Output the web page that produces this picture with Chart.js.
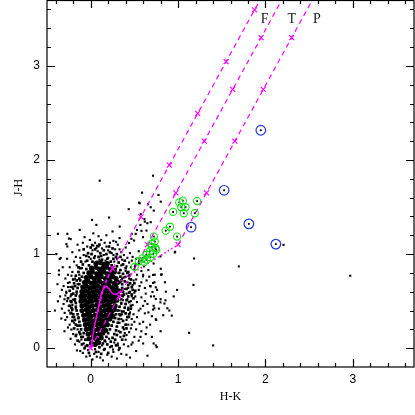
<!DOCTYPE html>
<html>
<head>
<meta charset="utf-8">
<script src="https://cdn.jsdelivr.net/npm/chart.js@4.4.1/dist/chart.umd.min.js"></script>
<style>
  html, body { margin: 0; padding: 0; background: #fff; }
  #wrap { width: 415px; height: 415px; }
</style>
</head>
<body>
<div id="wrap"><canvas id="ccd" width="415" height="415"></canvas></div>
<script>

//------------------------------------------------------------------
// values  (x = H-K , y = J-H)

const xTicks = [0, 1, 2, 3];
const yTicks = [0, 1, 2, 3];
const xTitle = 'H-K';
const yTitle = 'J-H';

const regionLabels = ['F', 'T', 'P'];
const regionLabelX = [1.99, 2.30, 2.59];
const regionLabelY = [3.49, 3.49, 3.49];

// dense middle of the cloud
const coreStars = [
  [0.01,0.05],[0.05,0.04],[0.09,0.06],
  [-0.02,0.10],[0.03,0.11],[0.07,0.09],[0.12,0.11],
  [-0.03,0.15],[0.01,0.16],[0.05,0.14],[0.10,0.15],[0.14,0.16],
  [-0.05,0.20],[-0.01,0.21],[0.04,0.19],[0.08,0.20],[0.12,0.21],[0.17,0.19],
  [-0.06,0.25],[-0.02,0.26],[0.02,0.24],[0.07,0.25],[0.11,0.26],[0.15,0.24],[0.19,0.25],
  [-0.07,0.30],[-0.03,0.31],[0.02,0.29],[0.06,0.30],[0.10,0.31],[0.14,0.29],[0.18,0.30],[0.22,0.31],
  [-0.08,0.35],[-0.04,0.36],[0.00,0.34],[0.05,0.35],[0.09,0.36],[0.13,0.34],[0.17,0.35],[0.21,0.36],[0.25,0.34],
  [-0.10,0.40],[-0.05,0.41],[-0.01,0.39],[0.03,0.40],[0.08,0.41],[0.12,0.39],[0.16,0.40],[0.20,0.41],[0.24,0.39],[0.27,0.41],
  [-0.10,0.45],[-0.06,0.46],[-0.02,0.44],[0.02,0.45],[0.07,0.46],[0.11,0.44],[0.15,0.45],[0.19,0.46],[0.23,0.44],[0.28,0.45],
  [-0.11,0.50],[-0.07,0.51],[-0.03,0.49],[0.01,0.50],[0.06,0.51],[0.10,0.49],[0.14,0.50],[0.18,0.51],[0.22,0.49],[0.26,0.50],[0.30,0.51],
  [-0.11,0.55],[-0.07,0.56],[-0.02,0.54],[0.02,0.55],[0.06,0.56],[0.11,0.54],[0.15,0.55],[0.19,0.56],[0.23,0.54],[0.27,0.55],[0.31,0.56],
  [-0.10,0.60],[-0.06,0.61],[-0.02,0.59],[0.03,0.60],[0.07,0.61],[0.11,0.59],[0.15,0.60],[0.19,0.61],[0.24,0.59],[0.28,0.60],[0.32,0.61],
  [-0.09,0.65],[-0.05,0.66],[-0.01,0.64],[0.04,0.65],[0.08,0.66],[0.12,0.64],[0.16,0.65],[0.21,0.66],[0.25,0.64],[0.29,0.65],
  [-0.07,0.70],[-0.03,0.71],[0.01,0.69],[0.05,0.70],[0.10,0.71],[0.14,0.69],[0.18,0.70],[0.22,0.71],[0.27,0.69],[0.31,0.70],
  [-0.05,0.75],[0.00,0.76],[0.04,0.74],[0.08,0.75],[0.12,0.76],[0.17,0.74],[0.21,0.75],[0.25,0.76],[0.29,0.74],
  [-0.02,0.80],[0.02,0.81],[0.07,0.79],[0.11,0.80],[0.15,0.81],[0.19,0.79],[0.24,0.80],[0.27,0.81],
  [0.01,0.85],[0.06,0.86],[0.10,0.84],[0.14,0.85],[0.18,0.86],[0.23,0.84],
  [0.06,0.90],[0.11,0.91],[0.15,0.89],[0.19,0.90]
];

// the crowded rim around that middle
const rimStars = [
  [-0.02,-0.05],[0.06,-0.04],[0.12,-0.06],[0.20,-0.05],
  [-0.07,0.00],[0.10,0.01],[0.16,-0.01],[0.24,0.02],[0.33,0.00],
  [-0.10,0.04],[-0.04,0.03],[0.14,0.05],[0.19,0.04],[0.29,0.03],
  [-0.15,0.08],[-0.06,0.09],[0.16,0.08],[0.23,0.07],[0.36,0.09],
  [-0.09,0.12],[-0.17,0.13],[0.18,0.12],[0.25,0.11],[0.30,0.14],
  [-0.08,0.16],[-0.13,0.17],[0.20,0.16],[0.27,0.15],[0.34,0.17],
  [-0.11,0.20],[-0.19,0.21],[0.22,0.20],[0.29,0.19],[0.37,0.22],
  [-0.12,0.24],[-0.17,0.25],[0.24,0.24],[0.30,0.23],[0.40,0.25],
  [-0.13,0.28],[-0.21,0.29],[0.26,0.28],[0.31,0.27],[0.37,0.29],
  [-0.14,0.32],[-0.19,0.33],[0.28,0.32],[0.32,0.31],[0.42,0.33],
  [-0.15,0.36],[-0.23,0.37],[0.29,0.36],[0.34,0.35],[0.40,0.37],
  [-0.16,0.40],[-0.21,0.41],[0.31,0.40],[0.36,0.39],[0.43,0.41],
  [-0.17,0.44],[-0.24,0.45],[0.33,0.44],[0.39,0.43],[0.46,0.45],
  [-0.17,0.48],[-0.22,0.49],[0.35,0.48],[0.40,0.47],[0.44,0.49],
  [-0.18,0.52],[-0.26,0.53],[0.35,0.52],[0.41,0.51],[0.49,0.53],
  [-0.17,0.56],[-0.22,0.57],[0.36,0.56],[0.43,0.55],[0.47,0.57],
  [-0.16,0.60],[-0.24,0.61],[0.37,0.60],[0.44,0.59],[0.51,0.61],
  [-0.15,0.64],[-0.21,0.65],[0.36,0.64],[0.41,0.63],[0.47,0.65],
  [-0.13,0.68],[-0.19,0.69],[0.36,0.68],[0.43,0.67],[0.50,0.69],
  [-0.12,0.72],[-0.20,0.73],[0.35,0.72],[0.39,0.71],[0.46,0.73],
  [-0.10,0.76],[-0.17,0.77],[0.34,0.76],[0.38,0.75],[0.44,0.77],
  [-0.08,0.80],[-0.14,0.81],[0.32,0.80],[0.37,0.79],[0.43,0.81],
  [-0.05,0.84],[-0.12,0.85],[0.28,0.84],[0.34,0.83],[0.40,0.85],
  [-0.02,0.88],[-0.09,0.89],[0.24,0.88],[0.30,0.87],[0.37,0.89],
  [0.02,0.92],[-0.04,0.93],[0.23,0.92],[0.13,0.94],[0.32,0.91],
  [0.04,0.96],[0.09,0.97],[0.19,0.95],[0.12,0.98],[0.29,0.97],
  [0.01,1.00],[0.11,1.01],[0.18,1.00],[0.22,1.02],[-0.03,1.01],
  [0.05,1.05],[0.15,1.04],[0.25,1.06],[-0.08,1.05],
  [0.26,0.95],[0.30,1.00],[0.34,0.97],[0.21,1.08],[0.10,1.10],[0.00,1.07],[-0.05,0.98],[-0.11,0.92],[-0.14,0.86],[0.39,0.93],
  [0.42,0.80],[0.45,0.69],[0.48,0.62],[0.46,0.42],[0.44,0.36],[0.41,0.21],[0.38,0.13],[0.28,0.09],[-0.20,0.36],[-0.23,0.50],
  [-0.20,0.58],[-0.18,0.66],[-0.16,0.72],[-0.13,0.74],[-0.18,0.30],[-0.15,0.24],[-0.12,0.15],[-0.22,0.43],[0.33,0.36],[0.38,0.57]
];

// single stars around the cloud
const fieldStars = [
  // right edge
  [0.34,0.12],[0.38,0.20],[0.33,0.27],[0.41,0.30],[0.36,0.36],[0.45,0.38],[0.39,0.43],[0.35,0.47],[0.48,0.46],[0.42,0.52],
  [0.37,0.55],[0.51,0.55],[0.45,0.60],[0.39,0.63],[0.55,0.62],[0.48,0.67],[0.42,0.70],[0.36,0.74],[0.52,0.73],[0.45,0.78],
  [0.40,0.82],[0.58,0.70],[0.50,0.84],[0.35,0.88],[0.44,0.91],[0.30,0.95],[0.38,0.99],[0.62,0.50],[0.57,0.42],[0.53,0.33],
  [0.47,0.25],[0.44,0.17],[0.40,0.09],[0.31,0.05],[0.50,0.12],[0.60,0.28],[0.66,0.38],[0.63,0.58],[0.68,0.66],[0.60,0.78],
  [0.55,0.90],[0.48,0.97],[0.33,0.40],[0.35,0.31],[0.32,0.18],[0.43,0.25],[0.39,0.16],[0.36,0.62],[0.34,0.70],[0.33,0.80],
  [0.41,0.58],[0.46,0.50],[0.37,0.51],[0.43,0.43],[0.38,0.39],[0.47,0.31],[0.40,0.76],[0.46,0.86],[0.29,0.84],[0.27,0.92],
  [0.52,0.20],[0.56,0.26],[0.49,0.36],[0.55,0.40],[0.60,0.45],[0.53,0.49],[0.58,0.54],[0.50,0.59],[0.56,0.66],[0.62,0.64],
  [0.53,0.78],[0.58,0.82],[0.51,0.88],[0.64,0.72],[0.69,0.55],[0.65,0.47],[0.70,0.34],[0.62,0.37],[0.57,0.12],[0.48,0.06],
  [0.43,0.02],[0.55,0.08],[0.41,0.14],[0.46,0.21],[0.50,0.28],[0.44,0.33],[0.40,0.47],[0.47,0.55],[0.43,0.64],[0.49,0.72],
  [0.44,0.74],[0.41,0.87],[0.47,0.93],[0.42,0.96],[0.36,0.94],[0.33,1.05],[0.40,1.07],[0.29,1.13],[0.45,1.01],[0.52,0.95],
  [0.58,0.93],[0.61,0.87],[0.67,0.76],[0.73,0.70],[0.78,0.42],[0.68,0.25],[0.63,0.15],[0.72,0.05],[0.80,0.18],[0.86,0.60],
  // left edge
  [-0.15,0.20],[-0.19,0.27],[-0.14,0.33],[-0.22,0.38],[-0.17,0.42],[-0.25,0.45],[-0.18,0.50],[-0.23,0.55],[-0.16,0.58],[-0.28,0.60],
  [-0.20,0.63],[-0.15,0.68],[-0.24,0.70],[-0.18,0.74],[-0.13,0.78],[-0.21,0.81],[-0.10,0.85],[-0.16,0.88],[-0.06,0.92],[-0.12,0.96],
  [-0.30,0.52],[-0.33,0.42],[-0.27,0.33],[-0.11,0.12],[-0.08,0.05],[-0.13,0.07],[-0.20,0.15],[-0.26,0.22],[-0.31,0.66],[-0.26,0.78],
  [-0.32,0.86],[-0.08,0.99],[-0.02,0.97],[-0.19,0.92],
  [-0.24,0.25],[-0.29,0.30],[-0.25,0.40],[-0.31,0.47],[-0.27,0.50],[-0.21,0.46],[-0.29,0.56],[-0.33,0.62],[-0.26,0.65],[-0.22,0.77],
  [-0.29,0.74],[-0.24,0.86],[-0.17,0.97],[-0.21,1.02],[-0.13,1.04],[-0.09,1.12],[-0.15,1.10],[-0.27,0.95],[-0.30,0.18],[-0.23,0.10],
  [-0.18,0.04],[-0.12,-0.03],[-0.21,0.33],[-0.35,0.55],[-0.38,0.68],[-0.41,0.40],
  // top of the cloud
  [0.00,0.95],[0.05,0.98],[0.10,0.94],[0.15,0.99],[0.20,0.96],[0.24,1.01],[0.08,1.03],[0.13,1.06],[0.02,1.04],[0.18,1.08],
  [0.28,1.05],[0.22,1.12],[-0.04,1.08],[0.05,1.12],[0.31,1.10],[0.12,1.15],[0.26,0.99],[0.17,0.93],[0.07,0.92],[0.35,1.02],
  [0.03,1.09],[0.09,1.08],[0.16,1.12],[0.20,1.04],[0.26,1.14],[-0.01,1.15],[0.09,1.19],[0.18,1.20],[0.25,1.24],[0.33,1.17],
  [0.03,1.22],[-0.07,1.18],
  // bottom
  [0.13,0.03],[0.17,0.07],[0.21,0.10],[0.15,-0.02],[0.09,-0.04],[0.04,-0.06],[-0.03,-0.02],[-0.06,0.02],[0.22,0.01],[0.27,0.06],
  [0.19,-0.07],[0.11,-0.10],[0.26,-0.04],[-0.05,-0.09],[0.02,-0.12],[0.35,-0.06],[0.30,-0.11],
  [-0.157,-0.024],[0.409,-0.07],[0.255,-0.014],[0.313,0.029],[0.466,0.039],[-0.164,0.145],[-0.221,0.198],[-0.107,0.092],[-0.031,0.021],
  [0.05,-0.01],[0.07,-0.09],[-0.01,-0.08],[0.14,-0.13],[0.24,-0.09],[0.32,-0.02],[0.38,0.04],[-0.09,-0.05],
  // outer left
  [-0.375,1.215],[-0.267,1.215],[-0.249,1.165],[-0.229,1.159],[-0.278,1.106],[-0.267,1.081],[-0.126,1.257],[0.015,1.363],[0.065,1.31],[0.015,1.098],
  [0.072,1.088],[0.065,1.064],[0.21,1.388],[-0.393,1.0],[-0.344,0.958],[0.103,1.78],[-0.355,0.947],[-0.363,0.826],[-0.363,0.781],[-0.375,0.498],
  [-0.336,0.315],[-0.298,0.375],[-0.278,0.587],[-0.233,0.65],[-0.26,0.693],[-0.203,0.516],
  // outer right
  [0.58,0.18],[0.64,0.22],[0.70,0.12],[0.75,0.30],[0.72,0.45],[0.80,0.52],[0.76,0.62],[0.85,0.70],[0.66,0.83],[0.72,0.90],
  [0.62,0.97],[0.55,1.03],[0.83,0.35],[0.90,0.40],[0.95,0.55],[0.60,0.05],[0.52,-0.03],[0.65,-0.08],[0.45,-0.10],
  [2.207,1.098],[1.183,0.953],[1.695,0.869],[0.962,1.017],[0.798,0.975],[0.813,0.784],[0.714,0.778],[1.176,0.672],[0.989,0.619],[0.714,0.693],
  [0.745,0.646],[0.687,0.657],[0.707,0.597],[0.725,0.551],[0.745,0.523],[0.856,0.508],[0.798,0.487],[0.844,0.474],[0.878,0.424],[0.729,0.424],
  [0.714,0.410],[0.928,0.346],[0.745,0.307],[1.126,0.163],[0.745,0.029],[0.756,0.011],[1.401,0.029],[2.97,0.77],
  // between the reddening lines
  [0.714,1.833],[0.588,1.653],[0.776,1.628],[0.802,1.557],[0.561,1.540],[0.687,1.498],[0.435,1.477],[0.573,1.424],[0.619,1.345],[0.649,1.328],
  [0.687,1.339],[0.332,1.292],[0.530,1.257],[0.581,1.247],[0.466,1.162],[0.496,1.144],[0.439,1.117],[0.599,0.763],[0.802,0.844],[0.553,1.547],
  [0.656,1.530],[0.722,1.462],[0.615,1.371],[0.569,1.31],[0.638,1.25],[0.470,1.215],[0.515,1.215],[0.599,1.18],[0.966,1.024],[0.805,0.781],
  [0.733,0.781]
];

// sources with near-infrared excess (green rings)
const excessStars = [
  [1.014,1.549],[1.054,1.568],[1.037,1.498],[1.085,1.498],[1.065,1.434],[0.943,1.448],[1.218,1.563],[1.191,1.434],
  [0.907,1.291],[0.859,1.249],[0.989,1.186],[0.722,1.186],[0.733,1.133],[0.695,1.109],[0.741,1.064],[0.699,1.077],
  [0.750,1.046],[0.676,1.028],[0.714,1.003],[0.638,0.993],[0.682,0.966],[0.590,0.955],[0.641,0.940],[0.550,0.924],
  [0.613,0.918],[0.504,0.865]
];

// blue rings
const ringedStars = [
  [1.947,2.316],[1.527,1.678],[1.149,1.286],[1.810,1.321],[2.119,1.106]
];

// loci
const dwarfLocus = [
  [0.00,0.00],[0.02,0.10],[0.04,0.22],[0.07,0.35],[0.10,0.48],[0.12,0.58],[0.15,0.64],
  [0.18,0.66],[0.21,0.63],[0.25,0.58],[0.28,0.57],[0.32,0.59],[0.35,0.61]
];
const giantBranch = [
  [0.08,0.38],[0.11,0.50],[0.14,0.62],[0.18,0.72],[0.22,0.80],[0.25,0.845]
];
const cttsLocus = [[0.30,0.694],[1.00,1.10]];

// reddening vectors, crosses every Av = 5 mag
const leftVector  = [[0.25,0.845],[0.575,1.395],[0.90,1.945],[1.225,2.495],[1.55,3.045],[1.875,3.595],[2.20,4.145]];
const midVector   = [[0.00,0.00],[0.325,0.55],[0.65,1.10],[0.975,1.65],[1.30,2.20],[1.625,2.75],[1.95,3.30],[2.275,3.85]];
const rightVector = [[1.00,1.10],[1.325,1.65],[1.65,2.20],[1.975,2.75],[2.30,3.30],[2.625,3.85]];

//------------------------------------------------------------------

const MAG = '#ff00ff';
const SANS = '"Liberation Sans", Arial, sans-serif';
const SERIF = '"Liberation Serif", "DejaVu Serif", serif';

function pts(arr){
    return arr.map(p => ({x: p[0], y: p[1]}));
}

function vectorLine(arr){
    return {
        data: pts(arr), showLine: true, borderColor: MAG, borderWidth: 1.2,
        borderDash: [5, 4], pointStyle: 'crossRot', pointRadius: 3.5,
        pointBorderColor: MAG, pointBorderWidth: 1.2, order: 2
    };
}

// frame, inward ticks, tick labels and titles
const boxPlugin = {
    id: 'box',
    afterDatasetsDraw(chart){
        const ctx = chart.ctx;
        const a = chart.chartArea;
        const sx = chart.scales.x, sy = chart.scales.y;
        ctx.save();
        ctx.strokeStyle = '#000';
        ctx.lineWidth = 1.2;
        ctx.strokeRect(a.left, a.top + 0.5, a.right - a.left, a.bottom - a.top - 0.5);

        for (let i = -2; i <= 18; i++) {
            const px = Math.round(sx.getPixelForValue(i / 5)) + 0.5;
            const len = (i % 5 == 0) ? 8 : 4;
            ctx.beginPath();
            ctx.moveTo(px, a.bottom); ctx.lineTo(px, a.bottom - len);
            ctx.moveTo(px, a.top);    ctx.lineTo(px, a.top + len);
            ctx.stroke();
        }
        for (let i = 0; i <= 18; i++) {
            const py = Math.round(sy.getPixelForValue(i / 5)) + 0.5;
            const len = (i % 5 == 0) ? 8 : 4;
            ctx.beginPath();
            ctx.moveTo(a.left, py);  ctx.lineTo(a.left + len, py);
            ctx.moveTo(a.right, py); ctx.lineTo(a.right - len, py);
            ctx.stroke();
        }

        ctx.fillStyle = '#000';
        ctx.font = '12px ' + SANS;
        ctx.textBaseline = 'middle';
        ctx.textAlign = 'center';
        xTicks.forEach(v => ctx.fillText(String(v), sx.getPixelForValue(v), a.bottom + 13));
        ctx.textAlign = 'right';
        yTicks.forEach(v => ctx.fillText(String(v), a.left - 7, sy.getPixelForValue(v)));

        ctx.font = '12px ' + SERIF;
        ctx.textAlign = 'center';
        ctx.fillText(xTitle, (a.left + a.right) / 2, a.bottom + 30);
        ctx.save();
        ctx.translate(19, (a.top + a.bottom) / 2 + 4);
        ctx.rotate(-Math.PI / 2);
        ctx.fillText(yTitle, 0, 0);
        ctx.restore();

        ctx.fillStyle = '#222';
        ctx.font = '14px ' + SERIF;
        for (let i = 0; i < regionLabels.length; i++) {
            ctx.fillText(regionLabels[i], sx.getPixelForValue(regionLabelX[i]), sy.getPixelForValue(regionLabelY[i]));
        }
        ctx.restore();
    }
};

const ctx = document.getElementById('ccd');

const ccd_chart = new Chart(ctx, {
    type: 'scatter',
    data: {
        datasets: [
            // rings on top
            { data: pts(excessStars), pointStyle: 'circle', pointRadius: 3.6, backgroundColor: 'rgba(0,0,0,0)',
              borderColor: '#11e011', borderWidth: 1.1, order: 0 },
            { data: pts(ringedStars), pointStyle: 'circle', pointRadius: 4.8, backgroundColor: 'rgba(0,0,0,0)',
              borderColor: '#2233dd', borderWidth: 1.2, order: 0 },
            { data: pts(excessStars), pointStyle: 'rect', pointRadius: 1.3, backgroundColor: '#000', borderWidth: 0, order: 1 },
            { data: pts(ringedStars), pointStyle: 'rect', pointRadius: 1.3, backgroundColor: '#000', borderWidth: 0, order: 1 },
            // loci and vectors
            vectorLine(leftVector),
            vectorLine(midVector),
            vectorLine(rightVector),
            { data: pts(dwarfLocus), showLine: true, borderColor: MAG, borderWidth: 1.4, pointRadius: 0, order: 2 },
            { data: pts(giantBranch), showLine: true, borderColor: MAG, borderWidth: 1.8, borderDash: [4, 2], pointRadius: 0, order: 2 },
            { data: pts(cttsLocus), showLine: true, borderColor: MAG, borderWidth: 1.6, borderDash: [1.5, 2.5], pointRadius: 0, order: 2 },
            // the field
            { data: pts(fieldStars), pointStyle: 'rect', pointRadius: 1.5, backgroundColor: '#000', borderWidth: 0, order: 3 },
            { data: pts(rimStars), pointStyle: 'rect', pointRadius: 1.9, backgroundColor: '#000', borderWidth: 0, order: 3 },
            { data: pts(coreStars), pointStyle: 'circle', pointRadius: 2.6, backgroundColor: '#000', borderWidth: 0, order: 3 }
        ]
    },
    options: {
        responsive: false,
        animation: false,
        events: [],
        layout: { autoPadding: false, padding: { top: 0, right: 1, left: 47, bottom: 48 } },
        plugins: { legend: { display: false }, tooltip: { enabled: false } },
        scales: {
            x: { type: 'linear', min: -0.5, max: 3.7, display: false },
            y: { type: 'linear', min: -0.2, max: 3.7, display: false }
        }
    },
    plugins: [boxPlugin]
});

</script>
</body>
</html>
